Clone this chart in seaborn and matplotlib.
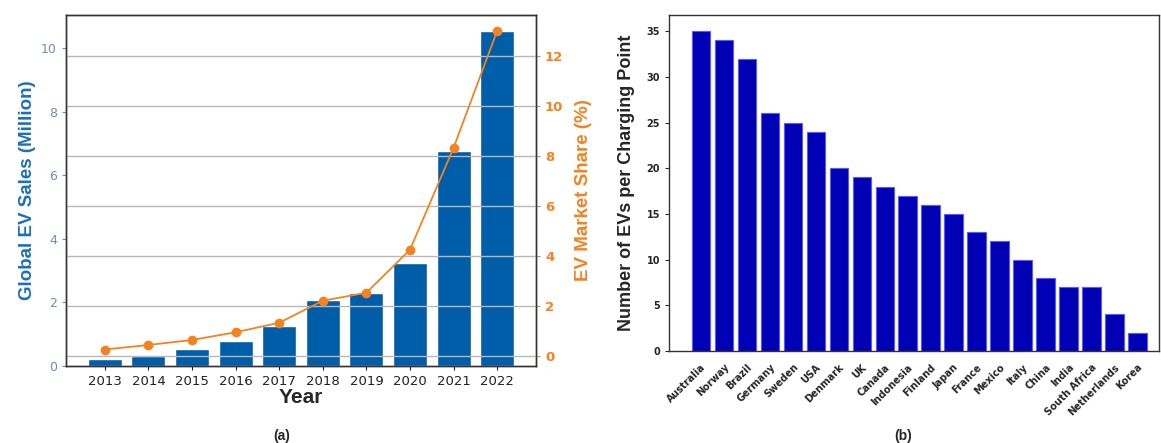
import numpy as np
import pandas as pd
import matplotlib
matplotlib.use("Agg")
import matplotlib.pyplot as plt
import seaborn as sns

# panel (a) data
years = ["2013", "2014", "2015", "2016", "2017", "2018", "2019", "2020", "2021", "2022"]
ev_sales = [0.22, 0.31, 0.55, 0.8, 1.27, 2.08, 2.29, 3.24, 6.77, 10.55]
ev_share = [0.25, 0.43, 0.63, 0.94, 1.32, 2.2, 2.52, 4.24, 8.32, 13.0]

# panel (b) data
countries = ["Australia", "Norway", "Brazil", "Germany", "Sweden", "USA", "Denmark", "UK",
             "Canada", "Indonesia", "Finland", "Japan", "France", "Mexico", "Italy", "China",
             "India", "South Africa", "Netherlands", "Korea"]
evs_per_point = [35, 34, 32, 26, 25, 24, 20, 19, 18, 17, 16, 15, 13, 12, 10, 8, 7, 7, 4, 2]

sns.set_style("white")
plt.rcParams['font.family'] = ['DejaVu Sans']

BAR_BLUE = "#005da8"
ORANGE = "#f58220"
W, H = 1161, 443
fig = plt.figure(figsize=(W / 100, H / 100), dpi=100)

def frac(l, t, r, b):
    return [l / W, 1 - b / H, (r - l) / W, (b - t) / H]

# ---- panel (a): bars + market share line on twin axis
ax1 = fig.add_axes(frac(66, 15, 536, 366))
df_a = pd.DataFrame({"year": years, "sales": ev_sales, "share": ev_share})
sns.barplot(data=df_a, x="year", y="sales", color=BAR_BLUE, saturation=1, width=0.78, ax=ax1)
ax1.set_xlim(-0.89, 9.89)
ax1.set_ylim(0, 11.04)
ax1.set_yticks([0, 2, 4, 6, 8, 10])
ax1.tick_params(axis="y", colors="#6b8fb5", labelsize=9, length=3, width=0.8, direction="out", left=True)
ax1.tick_params(axis="x", colors="#222222", labelsize=9.5, length=3, width=0.8, bottom=True)
ax1.set_xlabel("Year", fontsize=15, fontweight="bold", family="Liberation Sans", labelpad=0)
ax1.set_ylabel("Global EV Sales (Million)", fontsize=13.5, fontweight="bold",
               family="Liberation Sans", color="#1a6fbf", labelpad=4)
for s in ax1.spines.values():
    s.set_color("#333333")
    s.set_linewidth(1.0)

ax2 = ax1.twinx()
sns.lineplot(x=np.arange(len(years)), y=df_a["share"], color=ORANGE, marker="o",
             markersize=7, markeredgewidth=0, linewidth=1.3, ax=ax2)
ax2.set_ylim(-0.41, 13.63)
ax2.set_yticks([0, 2, 4, 6, 8, 10, 12])
ax2.grid(True, axis="y", color="#b8b8b8", linewidth=1.0)
ax2.tick_params(axis="y", colors=ORANGE, labelsize=9.5, length=3, width=0.8, right=True)
for lab in ax2.get_yticklabels():
    lab.set_fontweight("bold")
ax2.set_ylabel("EV Market Share (%)", fontsize=13.5, color=ORANGE, family="Liberation Sans",
               fontweight="semibold", labelpad=8)
for s in ax2.spines.values():
    s.set_color("#333333")
    s.set_linewidth(1.0)
fig.text(282 / W, 1 - 436 / H, "(a)", ha="center", va="center", fontsize=10,
         fontweight="bold", family="Liberation Sans")

# ---- panel (b): EVs per charging point
ax3 = fig.add_axes(frac(669, 15, 1159, 351))
df_b = pd.DataFrame({"country": countries, "evs": evs_per_point})
sns.barplot(data=df_b, x="country", y="evs", color="#0000b4", saturation=1, width=0.8,
            edgecolor="#5a5aff", linewidth=0.8, ax=ax3)
ax3.set_xlim(-1.39, 19.94)
ax3.set_ylim(0, 36.78)
ax3.set_yticks([0, 5, 10, 15, 20, 25, 30, 35])
ax3.tick_params(axis="y", labelsize=7, length=3, width=0.8, left=True)
ax3.tick_params(axis="x", labelsize=7, length=0, pad=8)
for lab in ax3.get_yticklabels():
    lab.set_fontweight("bold")
for lab in ax3.get_xticklabels():
    lab.set_fontweight("bold")
    lab.set_rotation(45)
    lab.set_ha("right")
    lab.set_rotation_mode("anchor")
ax3.set_xlabel("")
ax3.set_ylabel("Number of EVs per Charging Point", fontsize=13, family="Liberation Sans",
               fontweight="bold", labelpad=8)
for s in ax3.spines.values():
    s.set_color("#333333")
    s.set_linewidth(1.0)
fig.text(903 / W, 1 - 436 / H, "(b)", ha="center", va="center", fontsize=10,
         fontweight="bold", family="Liberation Sans")

fig.savefig("out.png", dpi=100)
